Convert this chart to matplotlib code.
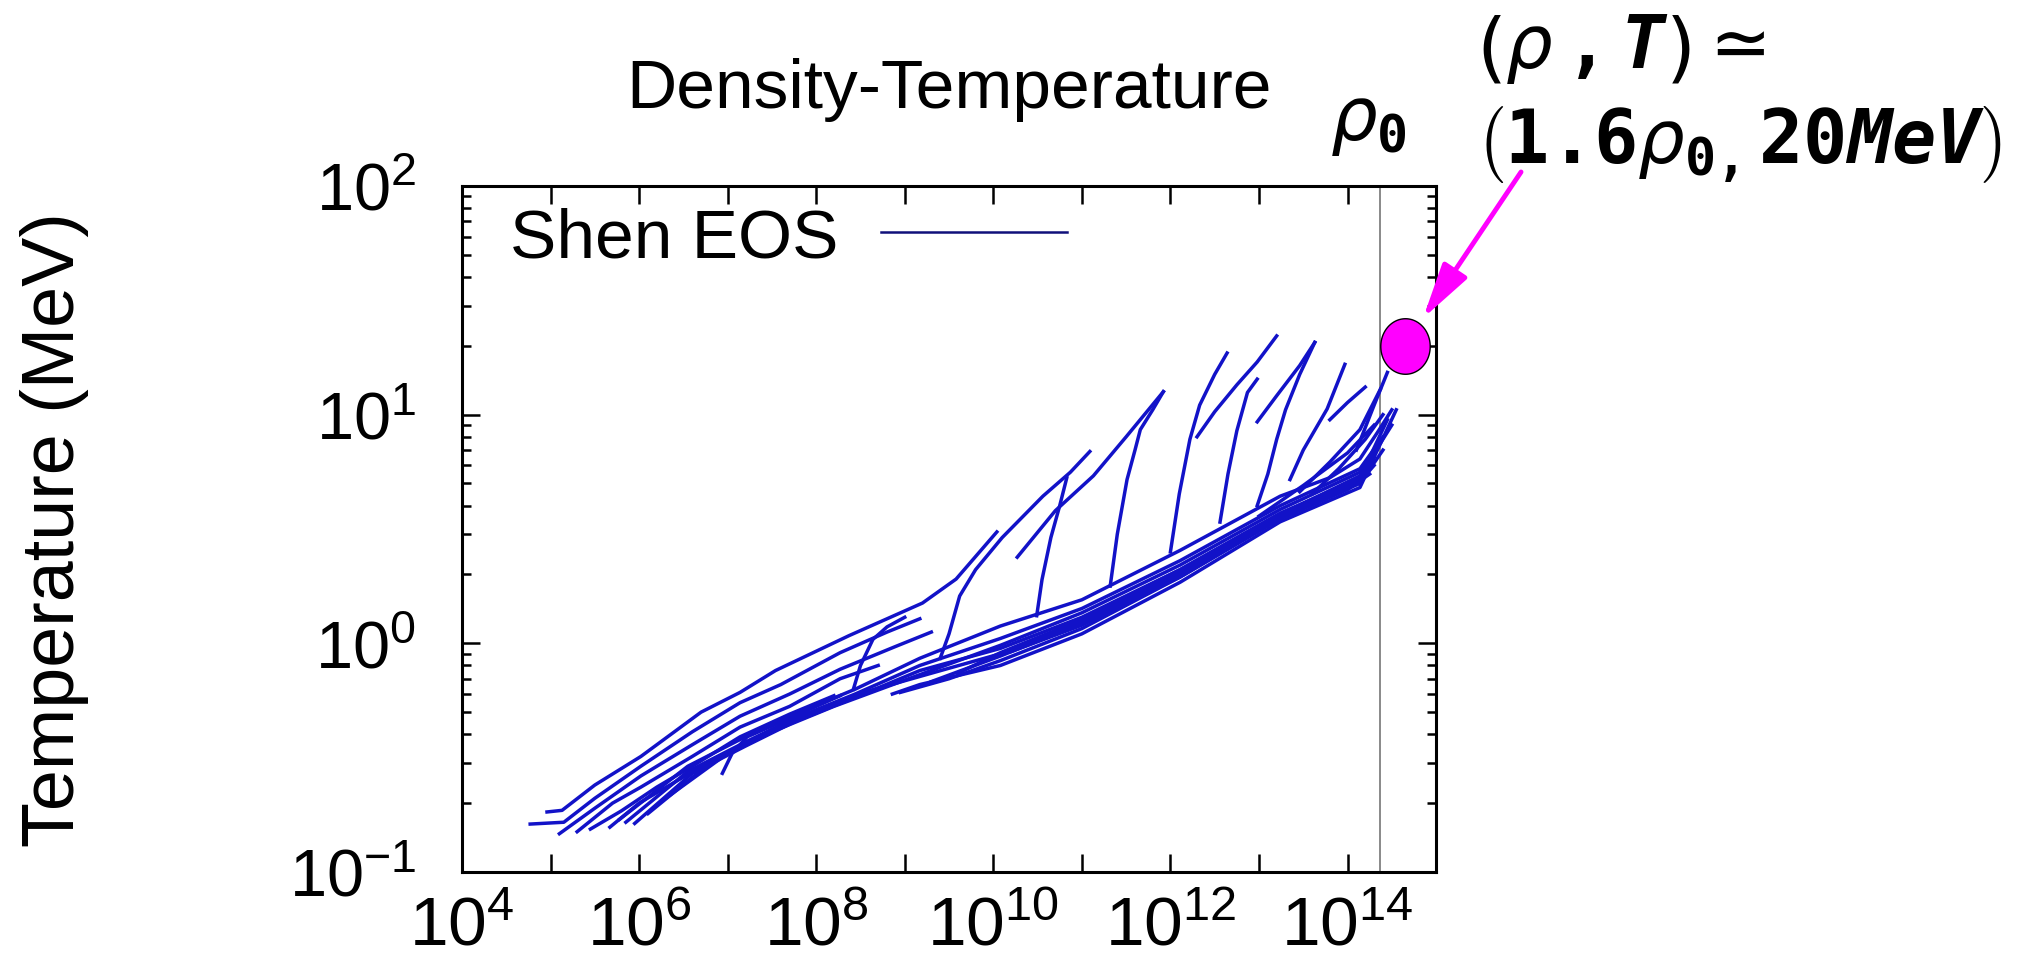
import matplotlib
matplotlib.use('Agg')
import numpy as np
import matplotlib.pyplot as plt
from matplotlib.ticker import FixedLocator, FuncFormatter, LogLocator, NullLocator, NullFormatter
from matplotlib.path import Path

plt.rcParams['font.family'] = ['Liberation Sans', 'DejaVu Sans']
plt.rcParams['mathtext.fontset'] = 'custom'
plt.rcParams['mathtext.rm'] = 'DejaVu Sans'
plt.rcParams['mathtext.it'] = 'DejaVu Sans:italic'
plt.rcParams['mathtext.tt'] = 'DejaVu Sans Mono:bold'
plt.rcParams['mathtext.sf'] = 'DejaVu Sans Mono:bold:italic'

# trajectories: log10(density [g/cm^3]) and T [MeV]
# low density bundle
upper_lrho = [
    [4.96, 5.13, 5.5, 6.02, 6.7, 7.14, 7.54, 8.37, 9.2, 9.58, 10.04],
    [4.77, 5.15, 5.5, 6.02, 6.6, 7.14, 7.6, 8.27, 8.8, 9.17],
    [5.1, 5.5, 6.02, 6.6, 7.14, 7.7, 8.27, 8.9, 9.3],
    [5.3, 5.7, 6.02, 6.6, 7.14, 7.7, 8.27, 8.7],
    [5.45, 5.8, 6.2, 6.6, 7.14, 7.7, 8.2],
    [5.67, 6.0, 6.5, 7.0, 7.5, 7.9],
]
upper_T = [
    [0.183, 0.186, 0.24, 0.32, 0.50, 0.61, 0.76, 1.08, 1.50, 1.91, 3.07],
    [0.162, 0.165, 0.21, 0.29, 0.41, 0.55, 0.66, 0.91, 1.12, 1.28],
    [0.147, 0.19, 0.263, 0.36, 0.48, 0.60, 0.77, 0.97, 1.12],
    [0.150, 0.20, 0.235, 0.32, 0.43, 0.53, 0.70, 0.80],
    [0.154, 0.185, 0.235, 0.29, 0.39, 0.49, 0.59],
    [0.157, 0.20, 0.26, 0.33, 0.42, 0.50],
]

# main band up to nuclear density
band_lrho = [
    [5.78, 6.55, 7.2, 7.76, 8.44, 9.17, 10.08, 11.0, 12.11, 13.24, 13.8, 14.14, 14.35, 14.5],
    [5.85, 6.55, 7.2, 7.76, 8.44, 9.17, 10.08, 11.0, 12.11, 13.24, 14.14, 14.4],
    [5.95, 6.6, 7.2, 7.76, 8.44, 9.17, 10.08, 11.0, 12.11, 13.24, 14.14, 14.45],
    [6.1, 6.8, 7.5, 8.2, 9.0, 10.08, 11.0, 12.11, 13.24, 14.14, 14.35],
    [6.3, 7.0, 7.76, 8.6, 9.3, 10.08, 11.0, 12.11, 13.24, 14.14, 14.5],
    [8.86, 9.17, 10.08, 11.0, 12.11, 13.24, 14.14, 14.55],
    [8.95, 9.5, 10.08, 11.0, 12.11, 13.24, 14.14, 14.4],
    [9.3, 10.08, 11.0, 12.11, 13.24, 14.14, 14.3],
    [9.6, 10.08, 11.0, 12.11, 13.24, 14.14, 14.3],
    [10.2, 11.0, 12.11, 13.24, 14.0, 14.25],
]
band_T = [
    [0.17, 0.29, 0.39, 0.49, 0.63, 0.86, 1.19, 1.55, 2.55, 4.4, 5.3, 6.4, 8.5, 10.5],
    [0.165, 0.275, 0.37, 0.47, 0.60, 0.80, 1.05, 1.42, 2.3, 4.0, 5.8, 8.0],
    [0.163, 0.27, 0.355, 0.455, 0.58, 0.76, 0.95, 1.30, 2.1, 3.7, 5.3, 9.5],
    [0.18, 0.30, 0.41, 0.53, 0.69, 0.98, 1.36, 2.2, 3.85, 5.6, 7.5],
    [0.21, 0.33, 0.46, 0.62, 0.74, 0.90, 1.25, 2.05, 3.65, 5.4, 9.0],
    [0.60, 0.66, 0.80, 1.10, 1.85, 3.4, 4.8, 10.5],
    [0.61, 0.70, 0.84, 1.16, 1.95, 3.55, 5.0, 7.0],
    [0.68, 0.88, 1.22, 2.0, 3.6, 5.1, 6.0],
    [0.74, 0.91, 1.27, 2.1, 3.7, 5.2, 6.5],
    [0.92, 1.20, 1.95, 3.5, 4.7, 5.5],
]

# steep branches climbing off the band
steep_lrho = [
    [6.94, 7.05, 7.22, 7.7, 8.27],
    [8.42, 8.5, 8.64, 8.8, 9.0],
    [9.4, 9.5, 9.62, 9.8, 10.1, 10.56, 10.87, 11.09],
    [10.27, 10.7, 11.13, 11.5, 11.92],
    [10.49, 10.55, 10.65, 10.75, 10.83],
    [11.32, 11.4, 11.51, 11.6, 11.66, 11.8, 11.92],
    [12.0, 12.1, 12.22, 12.33, 12.5, 12.64],
    [12.3, 12.5, 12.75, 12.98, 13.2],
    [12.56, 12.65, 12.75, 12.87, 12.98],
    [12.98, 13.1, 13.2, 13.3, 13.46, 13.63],
    [12.98, 13.2, 13.46, 13.63],
    [13.35, 13.5, 13.77, 13.97],
    [13.8, 14.0, 14.2],
    [13.46, 13.8, 14.14, 14.37],
    [13.0, 13.5, 14.0, 14.3],
    [13.6, 13.9, 14.2, 14.4],
    [14.1, 14.3, 14.45],
]
steep_T = [
    [0.27, 0.33, 0.39, 0.47, 0.59],
    [0.63, 0.80, 1.04, 1.18, 1.30],
    [0.86, 1.1, 1.61, 2.1, 2.9, 4.4, 5.6, 6.9],
    [2.38, 3.8, 5.4, 8.0, 12.6],
    [1.32, 1.9, 2.9, 4.0, 5.3],
    [1.78, 3.0, 5.2, 7.0, 8.6, 10.5, 12.6],
    [2.51, 4.5, 7.8, 11.0, 15.0, 18.6],
    [8.0, 10.3, 13.5, 17.0, 22.1],
    [3.39, 5.5, 8.5, 12.5, 14.3],
    [4.0, 5.5, 7.8, 10.5, 15.0, 20.7],
    [9.3, 12.1, 16.4, 20.7],
    [5.2, 7.0, 10.6, 16.6],
    [9.5, 11.3, 13.2],
    [4.6, 6.2, 8.6, 12.9],
    [3.6, 4.9, 6.8, 9.0],
    [4.5, 5.8, 7.8, 10.0],
    [7.0, 11.0, 15.3],
]

rho0 = 2.35e14
hot_rho = [4.4e14]
hot_T = [20.0]

x_decades = list(range(4, 16))
y_decades = [-1, 0, 1, 2]

line_col = '#1212c8'

fig = plt.figure(figsize=(20.37, 9.79), dpi=100)
ax = fig.add_axes([0.2268, 0.1083, 0.4782, 0.7007])

first = True
for lr_set, t_set in [(upper_lrho, upper_T), (band_lrho, band_T), (steep_lrho, steep_T)]:
    for lr, t in zip(lr_set, t_set):
        ax.plot(10 ** np.array(lr), t, color=line_col, lw=2.5,
                label='Shen EOS' if first else None)
        first = False

ax.axvline(rho0, color='#808080', lw=1.3, zorder=1)

th = np.linspace(0, 2 * np.pi, 80)
ellipse = Path(np.column_stack([0.89 * np.cos(th), np.sin(th)]), closed=True)
ax.plot(hot_rho, hot_T, ls='none', marker=ellipse, ms=40, mfc='magenta',
        mec='black', mew=1.0, clip_on=False, zorder=5)

ax.annotate('', xy=(hot_rho[0], hot_T[0]), xycoords='data',
            xytext=(0.7467, 0.8233), textcoords='figure fraction',
            arrowprops=dict(arrowstyle='-|>,head_length=0.85,head_width=0.22',
                            color='magenta', lw=3.5, mutation_scale=40,
                            shrinkA=0, shrinkB=24),
            annotation_clip=False)

ax.set_xscale('log')
ax.set_yscale('log')
ax.set_xlim(1e4, 1e15)
ax.set_ylim(0.1, 100)

ax.xaxis.set_major_locator(FixedLocator([10.0 ** k for k in x_decades]))
ax.xaxis.set_major_formatter(FuncFormatter(
    lambda v, p: r'$\mathdefault{10^{%d}}$' % round(np.log10(v)) if round(np.log10(v)) % 2 == 0 else ''))
ax.xaxis.set_minor_locator(NullLocator())
ax.yaxis.set_major_locator(FixedLocator([10.0 ** k for k in y_decades]))
ax.yaxis.set_major_formatter(FuncFormatter(
    lambda v, p: r'$\mathdefault{10^{%d}}$' % round(np.log10(v))))
ax.yaxis.set_minor_locator(LogLocator(base=10, subs=np.arange(2, 10)))
ax.yaxis.set_minor_formatter(NullFormatter())

ax.tick_params(which='both', direction='in', top=True, right=True, width=1.8)
ax.tick_params(which='major', length=13)
ax.tick_params(which='minor', length=6.5)
ax.tick_params(axis='x', labelsize=50, pad=16)
ax.tick_params(axis='y', labelsize=48, pad=33)
for s in ax.spines.values():
    s.set_linewidth(2.2)

ax.set_title('Density-Temperature', fontsize=50, pad=57)
ax.set_ylabel('Temperature (MeV)', fontsize=53)
ax.yaxis.set_label_coords(-0.383, 0.5)

leg = ax.legend(loc='upper left', bbox_to_anchor=(0.049, 0.97), frameon=False,
                fontsize=50, handlelength=2.67, handletextpad=0.62,
                markerfirst=False, borderpad=0, borderaxespad=0)
leg.get_lines()[0].set_color('#10107a')
leg.get_lines()[0].set_linewidth(1.8)

fig.text(0.7246, 0.9305, r'$\left(\rho\,\mathtt{,}\,\mathsf{T}\right){\simeq}$',
         fontsize=53, va='baseline', ha='left')
fig.text(0.7246, 0.8335, r'$\left(\mathtt{1.6}\rho_{\mathtt{0,}}\mathtt{20}\mathsf{MeV}\right)$',
         fontsize=53, va='baseline', ha='left')
fig.text(0.6529, 0.857, r'$\rho_{\mathtt{0}}$', fontsize=53, va='baseline', ha='left')

fig.savefig('out.png', dpi=100)
